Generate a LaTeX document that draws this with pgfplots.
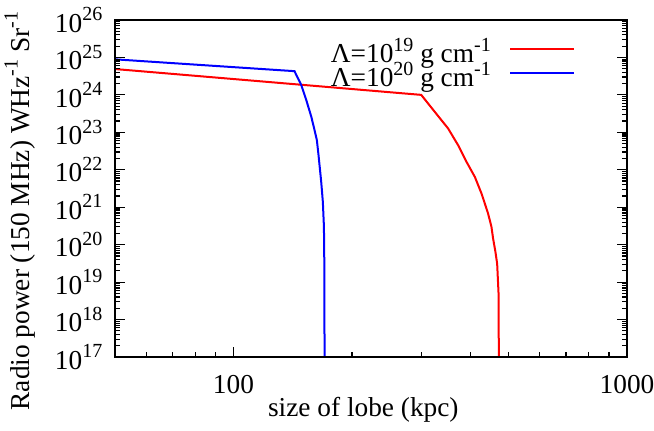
\documentclass[border=0pt]{standalone}
\usepackage{fontspec}
\setmainfont{Liberation Serif}
\newfontfamily\tnr{Liberation Serif}
\usepackage{pgfplots}
\pgfplotsset{compat=1.18}
\newcommand\supx[1]{\raisebox{0.42em}{\fontsize{15}{15}\selectfont #1}}
\newcommand\bigfont{\tnr\fontsize{20.5}{24}\selectfont}

\begin{document}
\begin{tikzpicture}[font=\bigfont]
\begin{axis}[
  scale only axis, width=384pt, height=252.75pt,
  xmode=log, ymode=log, log basis x=10, log basis y=10,
  xmin=50, xmax=1000, ymin=1e17, ymax=1e26,
  xtick={100,1000}, xticklabels={100,1000},
  minor xtick={60,70,80,90,200,300,400,500,600,700,800,900},
  ytick={1e17,1e18,1e19,1e20,1e21,1e22,1e23,1e24,1e25,1e26},
  yticklabels={10\supx{17},10\supx{18},10\supx{19},10\supx{20},10\supx{21},10\supx{22},10\supx{23},10\supx{24},10\supx{25},10\supx{26}},
  minor ytick={2e17,3e17,4e17,5e17,6e17,7e17,8e17,9e17,
   2e18,3e18,4e18,5e18,6e18,7e18,8e18,9e18,
   2e19,3e19,4e19,5e19,6e19,7e19,8e19,9e19,
   2e20,3e20,4e20,5e20,6e20,7e20,8e20,9e20,
   2e21,3e21,4e21,5e21,6e21,7e21,8e21,9e21,
   2e22,3e22,4e22,5e22,6e22,7e22,8e22,9e22,
   2e23,3e23,4e23,5e23,6e23,7e23,8e23,9e23,
   2e24,3e24,4e24,5e24,6e24,7e24,8e24,9e24,
   2e25,3e25,4e25,5e25,6e25,7e25,8e25,9e25},
  tick align=inside,
  xtick pos=bottom, ytick pos=both,
  major tick length=7.5pt, minor tick length=3.75pt,
  axis on top,
  clip=false,
  axis line style={line width=1pt},
  tick style={black, line width=0.9pt},
  tick label style={font=\bigfont},
  xticklabel style={yshift=-10pt},
  yticklabel style={xshift=-6pt},
  xlabel={size of lobe (kpc)},
  ylabel={Radio power (150 MHz) WHz\supx{-1} Sr\supx{-1}},
  xlabel style={font=\bigfont, at={(axis description cs:0.485,-0.157)}, anchor=center},
  ylabel style={font=\bigfont, at={(axis description cs:-0.186,0.433)}, anchor=center},
  legend cell align=right, legend plot pos=right,
  legend image code/.code={\draw[#1] (0pt,6.5pt) -- (48pt,6.5pt);},
  legend style={at={(rel axis cs:0.8994,0.924)}, anchor=north east, draw=none, fill=none,
    inner sep=0pt, outer sep=0pt, row sep=0pt, column sep=14pt, font=\bigfont,
    nodes={inner sep=0pt, text height=13pt, text depth=5pt}},
]
\addplot[red, line width=1.5pt] coordinates {
 (50,4.9e24) (300,1e24) (324.7,3.53e23) (351.1,1.27e23) (372.2,4.55e22)
 (391,1.63e22) (410.5,6.46e21) (426.9,2.32e21) (443.6,6.8e20) (452.5,2.97e20)
 (456.8,1.46e20) (463,6.5e19) (467.8,3.1e19) (471.6,5e18) (472.4,1e17)};
\addlegendentry{Λ=10\supx{19} g cm\supx{-1}}
\addplot[blue, line width=1.5pt] coordinates {
 (50,8.9e24) (142.9,4.3e24) (148.7,1.83e24) (153.1,7.3e23) (157.7,2.6e23)
 (160.7,1.15e23) (162.9,6.2e22) (164.5,2.45e22) (167.1,4.8e21) (168.7,1.4e21)
 (169.8,3e20) (170.2,2.5e19) (170.4,1e17)};
\addlegendentry{Λ=10\supx{20} g cm\supx{-1}}
\path (rel axis cs:0,0) ++(-86.25pt,-54.75pt) coordinate (bl);
\path (rel axis cs:0,0) ++(404.25pt,267.75pt) coordinate (tr);
\end{axis}
\pgfresetboundingbox
\path[use as bounding box] (bl) rectangle (tr);
\end{tikzpicture}
\end{document}
